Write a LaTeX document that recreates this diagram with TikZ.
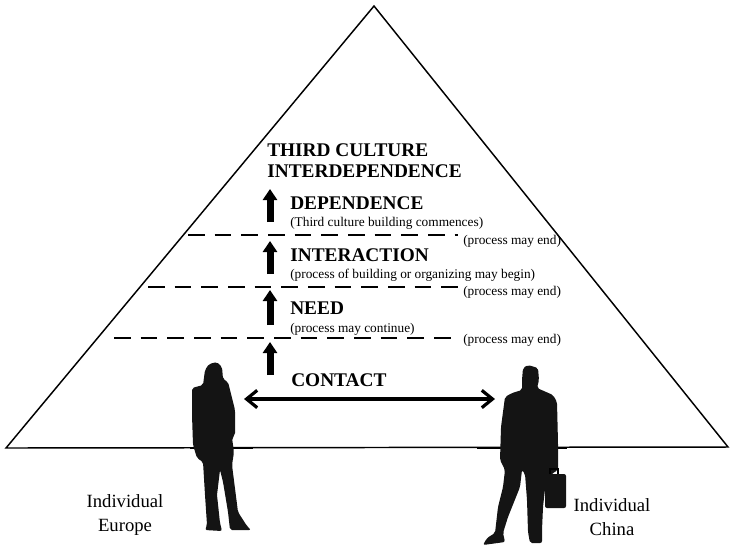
\documentclass[tikz,border=0pt]{standalone}
\usepackage{fontspec}
\setmainfont{Liberation Serif}
\usetikzlibrary{arrows.meta,positioning}

\begin{document}
\begin{tikzpicture}[x=0.75pt,y=-0.75pt,
                    stage/.style={inner sep=0pt, anchor=west, font=\fontsize{14.5}{16}\selectfont\bfseries},
                    note/.style={inner sep=0pt, anchor=west, font=\fontsize{10}{12}\selectfont},
                    who/.style={inner sep=0pt, align=center, font=\fontsize{14}{17.5}\selectfont},
                    level/.style={line width=2pt, dash pattern=on 12.5pt off 7.5pt},
                    stagearrow/.style={line width=5.25pt, -{Triangle[length=8.25pt,width=10.5pt]}},
                    person/.style={fill=black!92, draw=none, rounded corners=1.5pt}]
  \useasboundingbox (0,0) rectangle (730,547);

  % the pyramid
  \coordinate (top) at (374,6);
  \coordinate (bl) at (6,448);
  \coordinate (br) at (728,447);
  \draw[line width=1.1pt] (bl) -- (top) -- (br) -- cycle;
  \draw[line width=2.2pt] (190,448) -- (253,448);
  \draw[line width=2.2pt] (477,448) -- (567,448);

  % levels
  \draw[level] (188,235) -- (458,235);
  \draw[level] (148,287) -- (460,287);
  \draw[level] (114,338) -- (453,338);

  \node[note] (end1) at (463,241) {(process may end)};
  \node[note] (end2) at (463,292) {(process may end)};
  \node[note] (end3) at (463,340) {(process may end)};

  % stages
  \node[stage] (third) at (267,150) {THIRD CULTURE};
  \node[stage] (inter) at (267,171) {INTERDEPENDENCE};
  \node[stage] (dep) at (290,203) {DEPENDENCE};
  \node[note]  (depn) at (290,223) {(Third culture building commences)};
  \node[stage] (act) at (290,255) {INTERACTION};
  \node[note]  (actn) at (290,275) {(process of building or organizing may begin)};
  \node[stage] (need) at (290,308) {NEED};
  \node[note]  (needn) at (290,329) {(process may continue)};
  \node[stage] (contact) at (291,380) {CONTACT};

  \coordinate (a1) at (270,222); \coordinate (b1) at (270,189);
  \coordinate (a2) at (270,274); \coordinate (b2) at (270,241);
  \coordinate (a3) at (270,325); \coordinate (b3) at (270,290);
  \coordinate (a4) at (270,375); \coordinate (b4) at (270,342);
  \foreach \i in {1,...,4}
    \draw[stagearrow] (a\i) -- (b\i);

  % the two individuals
  \fill[person] (217,362) -- (222,367) -- (223,379) -- (228,382) -- (232,398)
        -- (235,410) -- (235,435) -- (232,438) -- (234,452) -- (232,465)
        -- (238,512) -- (247,526) -- (251,530) -- (230,530) -- (228,512)
        -- (223,482) -- (220,470) -- (217,495) -- (220,523) -- (222,531)
        -- (205,530) -- (207,525) -- (205,495) -- (203,462) -- (197,458)
        -- (193,445) -- (192,415) -- (192,388) -- (203,385) -- (205,370)
        -- (209,364) -- cycle;
  \fill[person] (528,365) -- (538,368) -- (539,380) -- (537,388) -- (553,395)
        -- (557,402) -- (558,443) -- (558,470) -- (553,473) -- (546,480)
        -- (543,507) -- (542,530) -- (542,543) -- (530,543) -- (528,532)
        -- (527,500) -- (525,474) -- (522,470) -- (520,487) -- (508,517)
        -- (503,533) -- (505,542) -- (483,545) -- (487,538) -- (495,533)
        -- (498,507) -- (503,487) -- (505,470) -- (500,460) -- (501,427)
        -- (505,397) -- (512,393) -- (522,390) -- (522,380) -- (523,368)
        -- cycle;
  % briefcase
  \fill[person] (545,474) rectangle (566,508);
  \draw[line width=1.5pt] (550,474) -- (550,469) -- (558,469) -- (558,474);

  \coordinate (europe) at (244,399);
  \coordinate (china) at (495,399);
  \draw[line width=2.4pt, {Straight Barb[length=8pt,width=13pt]}-{Straight Barb[length=8pt,width=13pt]}]
    (europe) -- (china);

  \node[who] (eu) at (125,515) {Individual\\Europe};
  \node[who] (cn) at (612,517) {Individual\\China};
\end{tikzpicture}
\end{document}
